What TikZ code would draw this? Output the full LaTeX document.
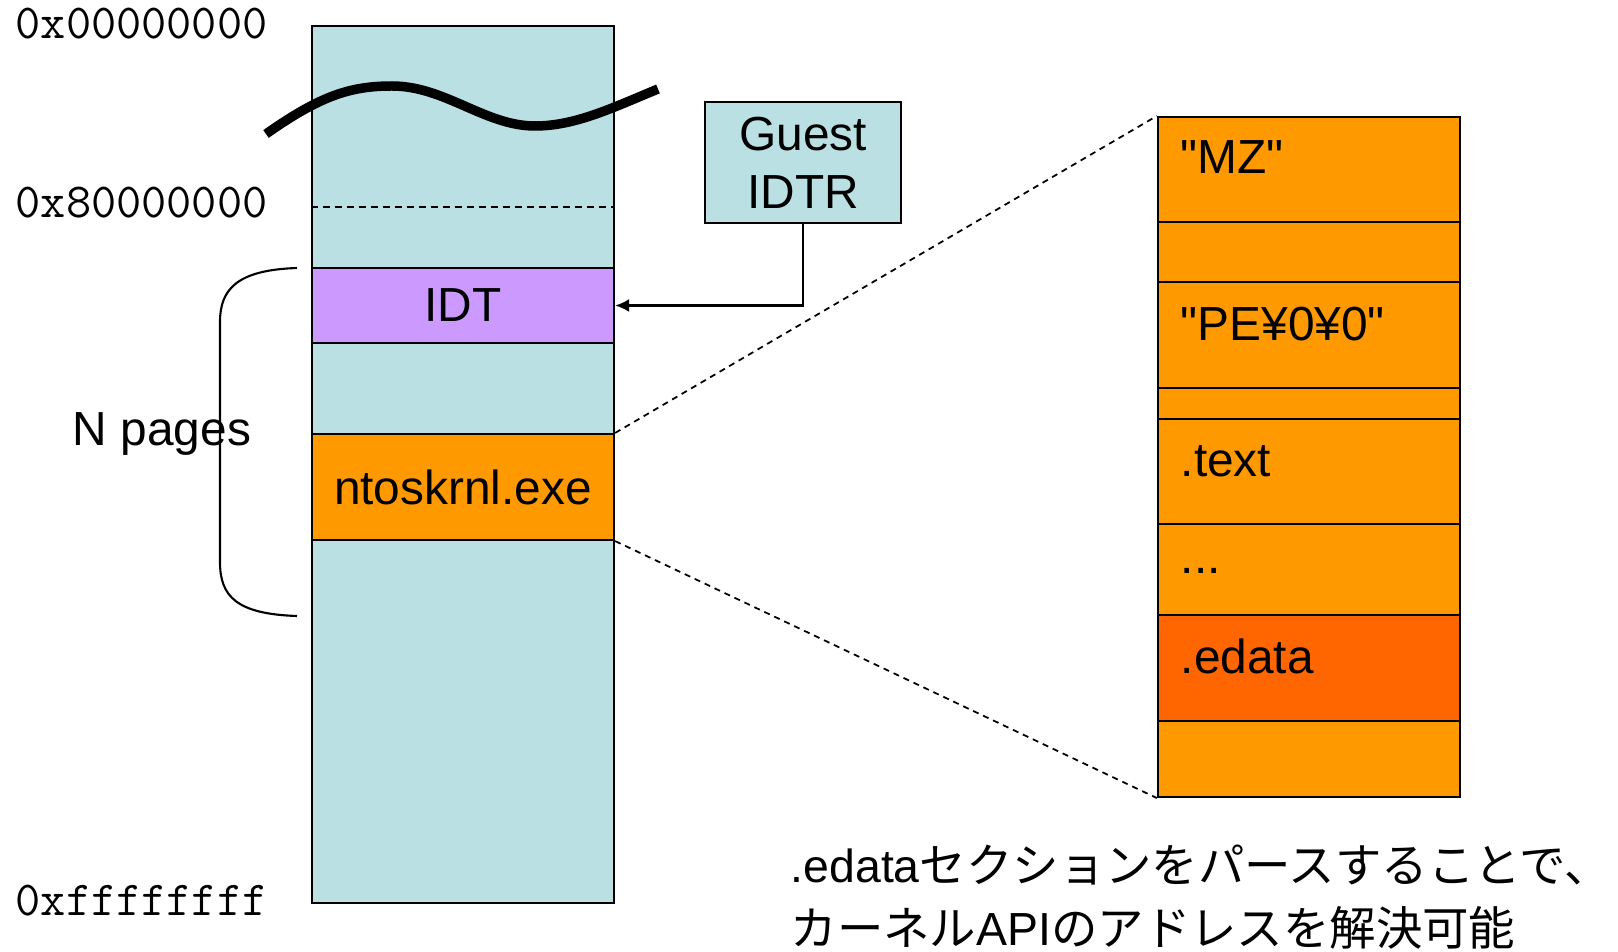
\documentclass[tikz,border=0pt]{standalone}
\usepackage{fontspec}
\setmainfont{Liberation Sans}
\newfontfamily\jpfont{Noto Sans CJK JP}
\usetikzlibrary{positioning,arrows.meta}

\definecolor{memblue}{HTML}{BAE0E3}
\definecolor{idtpurple}{HTML}{CC99FF}
\definecolor{peorange}{HTML}{FF9900}
\definecolor{edataorange}{HTML}{FF6600}

\begin{document}
\begin{tikzpicture}[x=0.01cm, y=-0.01cm,
    every node/.style={inner sep=0pt, font=\fontsize{13.6}{16.5}\selectfont},
    membox/.style={draw, line width=0.6pt, minimum width=3.02cm},
    hexlabel/.style={anchor=west, font=\ttfamily\fontsize{13.9}{16}\selectfont}]
  \useasboundingbox (0,0) rectangle (1618,952);

  % virtual address space
  \node[membox, fill=memblue, minimum height=8.77cm] (mem) at (463,464.5) {};
  \draw[dashed, dash pattern=on 0.07cm off 0.05cm] (mem.west |- 0,207) -- (mem.east |- 0,207);
  \node[membox, fill=idtpurple, minimum height=0.75cm] (idt) at (463,305.5) {IDT};
  \node[membox, fill=peorange, minimum height=1.06cm] (ntos) at (463,487) {ntoskrnl.exe};
  \draw[line width=2.7pt] (266,134) .. controls (320,96) and (350,86) .. (392,86)
    .. controls (445,86) and (485,126) .. (535,126) .. controls (575,126) and (612,108) .. (658,89);

  \node[hexlabel] (lo) at (15,24) {0x00000000};
  \node[hexlabel] (mid) at (15,203) {0x80000000};
  \node[hexlabel] (hi) at (15,901) {0xffffffff};

  \draw[line width=0.6pt] (297,268) .. controls (236,270) and (220,290) .. (220,322)
    -- (220,562) .. controls (220,596) and (236,614) .. (297,616);
  \node (npages) at (162,434) {N pages};

  \node[membox, fill=memblue, minimum width=1.96cm, minimum height=1.21cm, align=center] (idtr) at (803,162.5) {Guest\\IDTR};
  \draw[line width=0.6pt, -{Latex[length=0.14cm, width=0.13cm]}] (idtr.south) |- (idt.east);

  % PE image sections
  \foreach \name/\ytop/\ybot/\col in {mz/117/222/peorange, stub/222/282/peorange,
      pehdr/282/388/peorange, hdrpad/388/419/peorange, text/419/524/peorange,
      dots/524/615/peorange, edata/615/721/edataorange, tail/721/797/peorange} {
    \pgfmathsetmacro\h{(\ybot-\ytop)*0.01}
    \node[membox, fill=\col, minimum height=\h cm] (\name) at (1309,{(\ytop+\ybot)/2}) {};
  }
  \foreach \name/\y/\txt in {mz/157/\textquotedbl MZ\textquotedbl, pehdr/324/\textquotedbl PE¥0¥0\textquotedbl,
      text/461/.text, dots/571/{.{}.{}.}, edata/656/.edata}
    \node[anchor=west] (\name lbl) at (1180,\y) {\txt};

  \draw[dashed, line width=0.5pt, dash pattern=on 0.06cm off 0.05cm] (ntos.north east) -- (mz.north west);
  \draw[dashed, line width=0.5pt, dash pattern=on 0.06cm off 0.05cm] (ntos.south east) -- (tail.south west);

  \node[anchor=west, align=left, font=\fontsize{13.2}{17.9}\selectfont] (note) at (790,897)
    {.edata{\jpfont セクションをパースすることで、}\\{\jpfont カーネル}API{\jpfont のアドレスを解決可能}};
\end{tikzpicture}
\end{document}
